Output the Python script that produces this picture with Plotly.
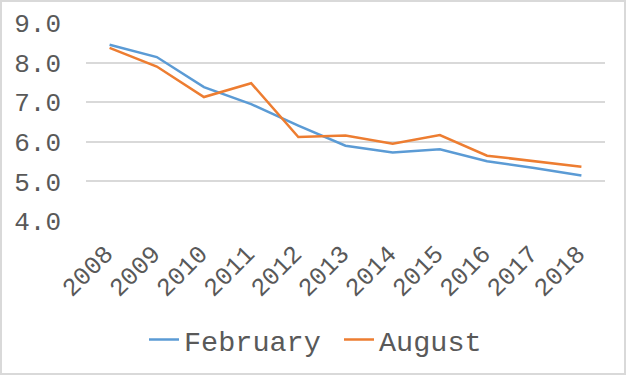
import plotly.graph_objects as go

years = ["2008", "2009", "2010", "2011", "2012", "2013", "2014", "2015", "2016", "2017", "2018"]
february = [8.45, 8.14, 7.38, 6.95, 6.41, 5.90, 5.73, 5.81, 5.51, 5.34, 5.15]
august = [8.37, 7.90, 7.13, 7.48, 6.12, 6.16, 5.95, 6.17, 5.65, 5.51, 5.37]
y_ticks = [4.0, 5.0, 6.0, 7.0, 8.0, 9.0]

W, H = 627, 376
ML, MR, MT, MB = 86, 22, 23, 155
pw, ph = W - ML - MR, H - MT - MB

fam = "Liberation Mono, Courier New, monospace"
col = "#595959"
font = dict(family=fam, size=26, color=col)
xfont = dict(family=fam, size=25, color=col)
lfont = dict(family=fam, size=28.5, color=col)

fig = go.Figure()
fig.add_trace(go.Scatter(x=years, y=february, mode="lines", name="February",
                         line=dict(color="#5B9BD5", width=2.5)))
fig.add_trace(go.Scatter(x=years, y=august, mode="lines", name="August",
                         line=dict(color="#ED7D31", width=2.5)))

fig.update_layout(
    width=W, height=H,
    margin=dict(l=ML, r=MR, t=MT, b=MB, autoexpand=False),
    paper_bgcolor="white", plot_bgcolor="white",
    font=font,
    showlegend=True,
    legend=dict(orientation="h", xref="container", yref="container",
                x=144 / W, xanchor="left", y=1 - 340 / H, yanchor="middle",
                font=lfont, itemwidth=30, tracegroupgap=0,
                entrywidth=150, entrywidthmode="pixels"),
    xaxis=dict(type="category", showgrid=False, zeroline=False, showline=False,
               tickangle=-45, ticks="", tickfont=xfont, range=[-0.5, 10.5],
               automargin=False, ticklabelstandoff=12, ticklabelshift=-4),
    yaxis=dict(range=[4, 9], tickvals=y_ticks, tickformat=".1f", showgrid=True,
               gridcolor="#D9D9D9", gridwidth=1.5, zeroline=False, showline=False,
               ticks="", tickfont=font, ticklabelstandoff=24, automargin=False),
    shapes=[dict(type="rect", xref="paper", yref="paper",
                 x0=-(ML - 1) / pw, x1=1 + (MR - 2) / pw,
                 y0=-(MB - 2) / ph, y1=1 + (MT - 1) / ph,
                 line=dict(color="#D9D9D9", width=2), layer="below")],
)

fig.write_html("out.html", config={"displayModeBar": False},
               post_script="document.body.style.margin='0';document.body.style.overflow='hidden';")
